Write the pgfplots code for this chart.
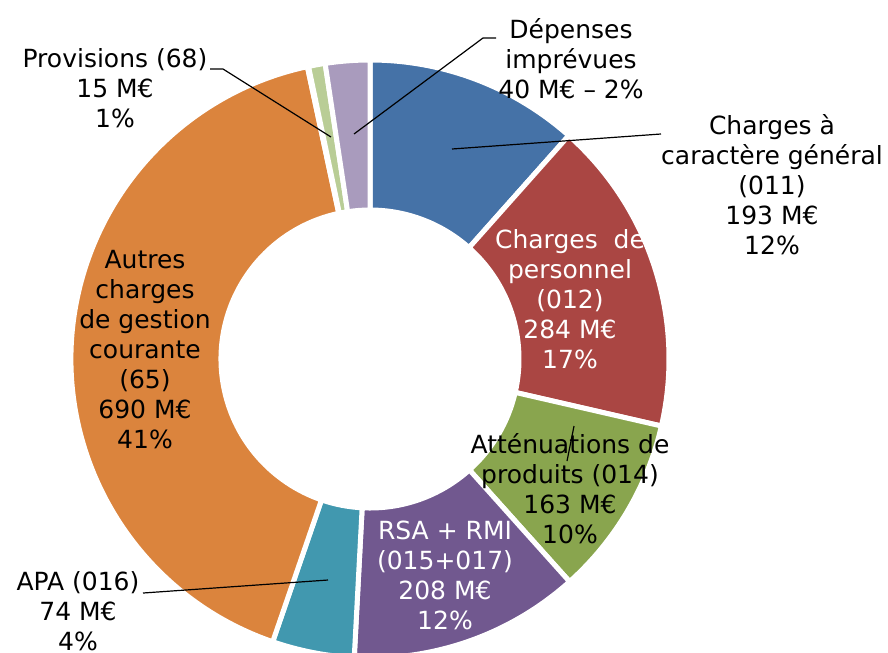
\documentclass[border=0pt]{standalone}
\usepackage{pgfplots}
\pgfplotsset{compat=1.18}
\usepackage{pgfplotstable}
\usepackage{fontspec}
\setmainfont{DejaVu Sans}

% slices clockwise from 12 o'clock, values in M€
\pgfplotstableread{
value
193
284
163
208
74
690
1
15
40
}\datatable

\definecolor{slice0}{HTML}{4572A7}
\definecolor{slice1}{HTML}{AA4643}
\definecolor{slice2}{HTML}{89A54E}
\definecolor{slice3}{HTML}{71588F}
\definecolor{slice4}{HTML}{4198AF}
\definecolor{slice5}{HTML}{DB843D}
\definecolor{slice6}{HTML}{D09493}
\definecolor{slice7}{HTML}{B9CD96}
\definecolor{slice8}{HTML}{A99BBD}

\tikzset{lbl/.style={font=\fontsize{12.5}{15}\selectfont, align=center, inner sep=0pt}}

\begin{document}
\begin{tikzpicture}
% total and start/end angle of every slice
\gdef\total{0}
\foreach \i in {0,...,8}{
  \pgfplotstablegetelem{\i}{value}\of\datatable
  \pgfmathsetmacro\tmp{\total+\pgfplotsretval}
  \global\let\total\tmp
}
\gdef\cum{0}
\foreach \i in {0,...,8}{
  \pgfplotstablegetelem{\i}{value}\of\datatable
  \pgfmathsetmacro\sa{90-360*(\cum/\total)}
  \pgfmathsetmacro\newcum{\cum+\pgfplotsretval}
  \pgfmathsetmacro\ea{90-360*(\newcum/\total)}
  \expandafter\xdef\csname sa\i\endcsname{\sa}
  \expandafter\xdef\csname ea\i\endcsname{\ea}
  \global\let\cum\newcum
}
\begin{axis}[
    width=444pt, height=326pt,
    scale only axis,
    hide axis,
    clip=false,
    xmin=0, xmax=888,
    ymin=0, ymax=652,
    y dir=reverse,
]
\coordinate (C) at (axis cs:370,359);
\coordinate (LL) at (axis cs:0,652);
\coordinate (UR) at (axis cs:888,0);
\pgfplotsinvokeforeach{0,...,8}{
  \fill[slice#1, draw=white, line width=2.5pt]
    ([shift={(\csname sa#1\endcsname:149.5pt)}]C)
    arc[start angle=\csname sa#1\endcsname, end angle=\csname ea#1\endcsname, radius=149.5pt]
    -- ([shift={(\csname ea#1\endcsname:74.5pt)}]C)
    arc[start angle=\csname ea#1\endcsname, end angle=\csname sa#1\endcsname, radius=74.5pt]
    -- cycle;
}
% leader lines
\draw[line width=0.6pt] (axis cs:452,149) -- (axis cs:661,134);
\draw[line width=0.6pt] (axis cs:574,426) -- (axis cs:567,461);
\draw[line width=0.6pt] (axis cs:143,593) -- (axis cs:328,580);
\draw[line width=0.6pt] (axis cs:210,69) -- (axis cs:223,69) -- (axis cs:331,137);
\draw[line width=0.6pt] (axis cs:496,38) -- (axis cs:483,38) -- (axis cs:354,134);
% labels
\node[lbl] at (axis cs:772,185) {Charges à\\caractère général\\(011)\\193 M€\\12\%};
\node[lbl, text=white] at (axis cs:570,299) {Charges\ \ de\\personnel\\(012)\\284 M€\\17\%};
\node[lbl] at (axis cs:570,489) {Atténuations de\\produits (014)\\163 M€\\10\%};
\node[lbl, text=white] at (axis cs:445,575) {RSA + RMI\\(015+017)\\208 M€\\12\%};
\node[lbl] at (axis cs:78,611) {APA (016)\\74 M€\\4\%};
\node[lbl] at (axis cs:145,350) {Autres\\charges\\de gestion\\courante\\(65)\\690 M€\\41\%};
\node[lbl] at (axis cs:115,88) {Provisions (68)\\15 M€\\1\%};
\node[lbl] at (axis cs:571,59) {Dépenses\\imprévues\\40 M€ – 2\%};
\end{axis}
\pgfresetboundingbox
\useasboundingbox (LL) rectangle (UR);
\end{tikzpicture}
\end{document}
